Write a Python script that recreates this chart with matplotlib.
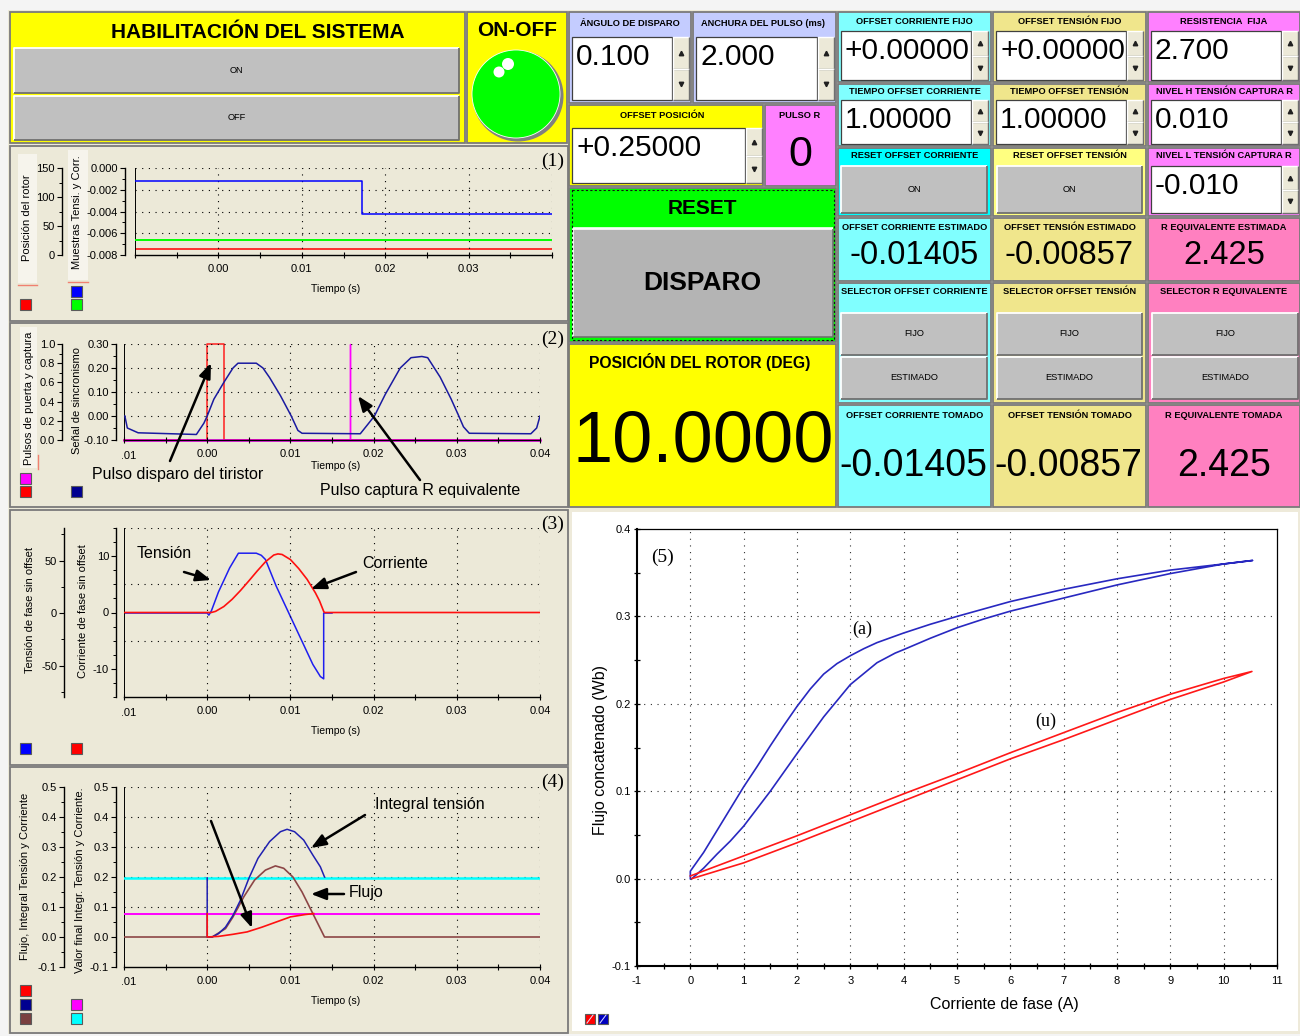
import matplotlib
matplotlib.use("Agg")
import matplotlib.pyplot as plt
from matplotlib.patches import Rectangle, Circle
from matplotlib.transforms import Bbox
from matplotlib.ticker import FixedLocator, FixedFormatter, MultipleLocator

plt.rcParams['font.family'] = ['Liberation Sans', 'DejaVu Sans']
SERIF = ['Liberation Serif', 'DejaVu Serif']

# ---------------- front panel values ----------------
angulo_disparo = 0.100
anchura_pulso_ms = 2.000
offset_posicion = 0.25
pulso_r = 0
offset_corriente_fijo = 0.0
offset_tension_fijo = 0.0
resistencia_fija = 2.700
tiempo_offset_corriente = 1.0
tiempo_offset_tension = 1.0
nivel_h_captura = 0.010
nivel_l_captura = -0.010
offset_corriente_estimado = -0.01405
offset_tension_estimado = -0.00857
r_equivalente_estimada = 2.425
offset_corriente_tomado = -0.01405
offset_tension_tomado = -0.00857
r_equivalente_tomada = 2.425
posicion_rotor = 10.0

# ---------------- graph (1): samples and rotor position ----------------
t_muestras = [-0.01, 0.0172, 0.0172, 0.04]
muestras_azul = [-0.00117, -0.00117, -0.00423, -0.00423]
t_linea = [-0.01, 0.04]
muestras_verde = [-0.00662, -0.00662]
rotor = [posicion_rotor, posicion_rotor]

# ---------------- graph (2): sync signal and pulses ----------------
t_sinc = [-0.0099, -0.0096, -0.0083, -0.0013, -0.0004, 0.0, 0.0008, 0.002, 0.0031, 0.0037,
          0.0059, 0.0067, 0.0075, 0.0088, 0.0101, 0.0109, 0.0114, 0.0184, 0.0193, 0.0201,
          0.0214, 0.0232, 0.0245, 0.0258, 0.0265, 0.028, 0.0293, 0.0302, 0.0308, 0.0315,
          0.0389, 0.0396, 0.04]
v_sinc = [0.0, -0.05, -0.07, -0.077, -0.03, 0.0, 0.07, 0.14, 0.2, 0.22,
          0.22, 0.2, 0.16, 0.085, 0.0, -0.06, -0.072, -0.074, -0.035, 0.0,
          0.09, 0.2, 0.243, 0.248, 0.243, 0.162, 0.072, 0.003, -0.045, -0.072,
          -0.074, -0.05, 0.0]
t_disparo = [-0.01, 0.0, 0.0, 0.002, 0.002, 0.04]
p_disparo = [0, 0, 1, 1, 0, 0]
t_captura = [-0.01, 0.0172, 0.0172, 0.0172, 0.04]
p_captura = [0, 0, 1, 0, 0]

# ---------------- graph (3): phase voltage and current ----------------
t_tension = [-0.01, 0.0, 0.0002, 0.0005, 0.00135, 0.0027, 0.00375, 0.0059, 0.0065, 0.007,
             0.0083, 0.0099, 0.0114, 0.0127, 0.0136, 0.014, 0.014, 0.015]
v_tension = [0, 0, -2, 2, 20, 43, 57, 57, 55, 51,
             25.5, -1.6, -27, -49, -60.5, -62.7, 0, 0]
t_corriente = [-0.01, 0.0005, 0.001, 0.002, 0.003, 0.004, 0.005, 0.006, 0.007, 0.008,
               0.0085, 0.009, 0.010, 0.011, 0.012, 0.013, 0.0135, 0.014, 0.0141, 0.04]
i_corriente = [0, 0, 0.2, 1.06, 2.35, 3.9, 5.6, 7.35, 9.0, 10.2,
               10.4, 10.3, 9.4, 7.8, 5.9, 3.5, 2.06, 0.2, 0, 0]

# ---------------- graph (4): flux, voltage integral and current ----------------
t_integral = [0.0, 0.0, 0.0006, 0.00135, 0.0022, 0.0031, 0.004, 0.005, 0.0061, 0.0075,
              0.0088, 0.0096, 0.0105, 0.0116, 0.0127, 0.0136, 0.0141]
v_integral = [0.197, 0.0, 0.0, 0.011, 0.033, 0.072, 0.123, 0.195, 0.262, 0.318,
              0.351, 0.359, 0.351, 0.323, 0.273, 0.234, 0.2]
t_flujo = [-0.01, 0.0006, 0.0022, 0.0031, 0.0044, 0.0057, 0.007, 0.0082, 0.0092, 0.0103,
           0.0114, 0.0125, 0.0134, 0.0141, 0.04]
v_flujo = [0.0, 0.0, 0.028, 0.067, 0.134, 0.19, 0.223, 0.237, 0.229, 0.2,
           0.15, 0.089, 0.039, 0.0, 0.0]
t_corr4 = [0.0, 0.0, 0.00135, 0.0031, 0.0048, 0.0066, 0.0083, 0.01, 0.0118, 0.0128]
v_corr4 = [0.078, 0.0, 0.002, 0.009, 0.017, 0.033, 0.05, 0.067, 0.075, 0.078]
valor_final_integral = 0.197
valor_final_corriente = 0.078

# ---------------- graph (5): flux linkage vs phase current ----------------
i_alineado = [0.03, 0.25, 0.5, 0.75, 1.0, 1.5, 2.0, 2.5, 3.0, 3.5, 3.84, 4.0, 4.5, 5.0, 5.5, 6.0,
              7.0, 8.0, 9.0, 10.0, 10.54,
              10.0, 9.0, 8.0, 7.0, 6.0, 5.0, 4.5, 4.0, 3.5, 3.25, 3.0, 2.75, 2.5, 2.25, 2.0,
              1.75, 1.5, 1.25, 1.0, 0.75, 0.5, 0.25, 0.0, 0.0]
f_alineado = [0.0, 0.012, 0.028, 0.043, 0.06, 0.1, 0.143, 0.185, 0.222, 0.247, 0.258, 0.262,
              0.275, 0.287, 0.297, 0.306, 0.321, 0.336, 0.349, 0.36, 0.364,
              0.36, 0.353, 0.343, 0.331, 0.317, 0.3, 0.291, 0.281, 0.27, 0.263, 0.255, 0.246,
              0.234, 0.217, 0.197, 0.175, 0.152, 0.128, 0.105, 0.08, 0.055, 0.03, 0.0085, 0.0]
i_no_alineado = [0.03, 1.0, 2.0, 3.0, 4.0, 5.0, 6.0, 7.0, 8.0, 9.0, 10.0, 10.53,
                 10.0, 9.0, 8.0, 7.0, 6.0, 5.0, 4.0, 3.0, 2.0, 1.0, 0.0]
f_no_alineado = [0.0, 0.018, 0.041, 0.065, 0.089, 0.113, 0.137, 0.159, 0.182, 0.205, 0.225, 0.237,
                 0.229, 0.211, 0.19, 0.167, 0.144, 0.12, 0.097, 0.073, 0.049, 0.026, 0.003]

t_ticks = [-0.01, 0.0, 0.01, 0.02, 0.03, 0.04]
t_ticklabels = ['', '0.00', '0.01', '0.02', '0.03', '0.04']

# ---------------- colours ----------------
BEIGE = '#ECE9D8'
YELLOW = '#FFFF00'
LAVENDER = '#C4CCFF'
CYAN_L = '#80FFFF'
CYAN = '#00FFFF'
KHAKI = '#F0E68C'
YELLOW_L = '#FFFF80'
PINK = '#FF80FF'
PINK2 = '#FF80C0'
GREY_BTN = '#C0C0C0'
NAVY = '#1A1AA0'
BROWN = '#8C4646'

W, H = 1300, 1036
fig = plt.figure(figsize=(W / 100, H / 100), dpi=100)
fig.patch.set_facecolor('#F4F4F4')

bg = fig.add_axes([0, 0, 1, 1], zorder=0)
bg.set_xlim(0, W)
bg.set_ylim(H, 0)
bg.axis('off')

fg = fig.add_axes([0, 0, 1, 1], zorder=10)
fg.set_xlim(0, W)
fg.set_ylim(H, 0)
fg.axis('off')
fg.patch.set_alpha(0)


def frac(x0, y0, x1, y1):
    return [x0 / W, 1 - y1 / H, (x1 - x0) / W, (y1 - y0) / H]


def box(x0, y0, x1, y1, fc, ec='none', lw=0.0, z=1, **kw):
    bg.add_patch(Rectangle((x0, y0), x1 - x0, y1 - y0, facecolor=fc, edgecolor=ec,
                           linewidth=lw, zorder=z, **kw))


def panel(x0, y0, x1, y1, fc):
    box(x0, y0, x1, y1, fc, ec='#7A7A7A', lw=1.3)


def bevel(x0, y0, x1, y1, fc, lw=1.0):
    box(x0, y0, x1, y1, fc, z=2)
    bg.plot([x0, x0, x1], [y1, y0, y0], color='white', lw=lw, zorder=3, solid_capstyle='butt')
    bg.plot([x0, x1, x1], [y1, y1, y0], color='#707070', lw=lw, zorder=3, solid_capstyle='butt')


def button(x0, y0, x1, y1, text, size=6.7, fc=GREY_BTN, bold=False):
    bevel(x0, y0, x1, y1, fc, lw=1.3)
    bg.text((x0 + x1) / 2, (y0 + y1) / 2, text, size=size, ha='center', va='center',
            weight='bold' if bold else 'normal', zorder=4)


def title(x, y, s, size=6.7):
    bg.text(x, y, s, size=size, weight='bold', ha='center', va='center', zorder=4)


def numeric(x0, y0, x1, y1, text, size=21.5):
    sw = 16
    box(x0, y0, x1 - sw - 1, y1, 'white', ec='#404040', lw=0.9, z=2)
    mid = (y0 + y1) / 2
    for a, b, mk in [(y0, mid, '^'), (mid, y1, 'v')]:
        bevel(x1 - sw, a, x1, b, BEIGE)
        bg.plot((x1 - sw + x1) / 2, (a + b) / 2, marker=mk, ms=3.2, color='#202020', zorder=4)
    bg.text(x0 + 4, y0 + 20, text, size=size, ha='left', va='center', zorder=4)


def swatch(xc, yc, color, s=11):
    box(xc - s / 2, yc - s / 2, xc + s / 2, yc + s / 2, color, ec='#5A5A5A', lw=0.8, z=3)


def vlabel(x, y, s, size=8):
    bg.text(x, y, s, rotation=90, size=size, ha='center', va='center', zorder=4)


# ---------------- background and panels ----------------
box(8, 10, W, 1034, BEIGE, z=0)

panel(10, 12, 465, 143, YELLOW)
panel(467, 12, 567, 143, YELLOW)
panel(10, 146, 568, 321, BEIGE)
panel(10, 323, 568, 507, BEIGE)
panel(10, 510, 568, 765, BEIGE)
panel(10, 767, 568, 1033, BEIGE)

# system enable block
title(258, 32, 'HABILITACIÓN DEL SISTEMA', size=15)
button(14, 48, 459, 93, 'ON', size=6.7)
button(14, 96, 459, 140, 'OFF', size=6.7)
title(517, 31, 'ON-OFF', size=15)
bg.add_patch(Circle((518, 96), 45.5, facecolor='#808080', edgecolor='none', zorder=2))
bg.add_patch(Circle((516, 94), 44, facecolor='#00FF00', edgecolor='white', lw=0.6, zorder=3))
bg.add_patch(Circle((499, 72), 5.5, facecolor='white', edgecolor='none', zorder=4))
bg.add_patch(Circle((508, 64), 6.0, facecolor='white', edgecolor='none', zorder=4))

# firing controls
panel(569, 12, 691, 103, LAVENDER)
title(630, 23, 'ÁNGULO DE DISPARO')
numeric(572, 37, 689, 100, f'{angulo_disparo:.3f}')
panel(693, 12, 836, 103, LAVENDER)
title(763, 23, 'ANCHURA DEL PULSO (ms)')
numeric(696, 37, 834, 100, f'{anchura_pulso_ms:.3f}')
panel(569, 105, 763, 186, YELLOW)
title(662, 116, 'OFFSET POSICIÓN')
numeric(572, 128, 762, 183, f'{offset_posicion:+.5f}')
panel(765, 105, 836, 186, PINK)
title(800, 116, 'PULSO R')
bg.text(800, 155, f'{pulso_r:d}', size=31, ha='center', va='center', zorder=4)

panel(569, 188, 836, 342, '#00FF00')
bg.add_patch(Rectangle((571.5, 190), 262, 150, facecolor='none', edgecolor='#101010',
                       lw=0.8, ls=(0, (2, 2)), zorder=5))
title(702, 208, 'RESET', size=15)
box(573, 227, 833, 229, '#D0FFD0', z=2)
bevel(573, 229, 833, 337, '#B4B4B4', lw=1.2)
bg.text(702, 283, 'DISPARO', size=19, weight='bold', ha='center', va='center', zorder=4)

panel(569, 344, 836, 507, YELLOW)
title(700, 362, 'POSICIÓN DEL ROTOR (DEG)', size=11.3)
bg.text(703, 443, f'{posicion_rotor:.4f}', size=52, ha='center', va='center', zorder=4)

# offset / resistance columns
cols = [(838, 991), (993, 1146), (1148, 1300)]
rows = [(12, 82), (84, 146), (148, 216), (218, 281), (283, 403), (405, 507)]
col_colors = [[CYAN_L, CYAN_L, CYAN, CYAN_L, CYAN_L, CYAN_L],
              [KHAKI, KHAKI, YELLOW_L, KHAKI, KHAKI, KHAKI],
              [PINK, PINK, PINK, PINK2, PINK2, PINK2]]
for (cx0, cx1), cc in zip(cols, col_colors):
    for (ry0, ry1), c in zip(rows, cc):
        panel(cx0, ry0, cx1, ry1, c)

titles = [['OFFSET CORRIENTE FIJO', 'TIEMPO OFFSET CORRIENTE', 'RESET OFFSET CORRIENTE',
           'OFFSET CORRIENTE ESTIMADO', 'SELECTOR OFFSET CORRIENTE', 'OFFSET CORRIENTE TOMADO'],
          ['OFFSET TENSIÓN FIJO', 'TIEMPO OFFSET TENSIÓN', 'RESET OFFSET TENSIÓN',
           'OFFSET TENSIÓN ESTIMADO', 'SELECTOR OFFSET TENSIÓN', 'OFFSET TENSIÓN TOMADO'],
          ['RESISTENCIA  FIJA', 'NIVEL H TENSIÓN CAPTURA R', 'NIVEL L TENSIÓN CAPTURA R',
           'R EQUIVALENTE ESTIMADA', 'SELECTOR R EQUIVALENTE', 'R EQUIVALENTE TOMADA']]
title_y = [21, 92, 156, 228, 292, 416]
for (cx0, cx1), tl in zip(cols, titles):
    for ty, s in zip(title_y, tl):
        title((cx0 + cx1) / 2, ty, s)

numeric(841, 31, 988, 80, f'{offset_corriente_fijo:+.5f}')
numeric(996, 31, 1143, 80, f'{offset_tension_fijo:+.5f}')
numeric(1151, 31, 1298, 80, f'{resistencia_fija:.3f}')
numeric(841, 100, 988, 144, f'{tiempo_offset_corriente:.5f}')
numeric(996, 100, 1143, 144, f'{tiempo_offset_tension:.5f}')
numeric(1151, 100, 1298, 144, f'{nivel_h_captura:.3f}')
button(841, 166, 987, 213, 'ON')
button(997, 166, 1142, 213, 'ON')
numeric(1151, 166, 1298, 213, f'{nivel_l_captura:.3f}')

bg.text(914, 256, f'{offset_corriente_estimado:.5f}', size=23.5, ha='center', va='center', zorder=4)
bg.text(1069, 256, f'{offset_tension_estimado:.5f}', size=23.5, ha='center', va='center', zorder=4)
bg.text(1224, 256, f'{r_equivalente_estimada:.3f}', size=23.5, ha='center', va='center', zorder=4)

for bx0, bx1 in [(841, 987), (997, 1142), (1152, 1298)]:
    button(bx0, 313, bx1, 355, 'FIJO')
    button(bx0, 357, bx1, 399, 'ESTIMADO')

bg.text(913, 466, f'{offset_corriente_tomado:.5f}', size=27, ha='center', va='center', zorder=4)
bg.text(1068, 466, f'{offset_tension_tomado:.5f}', size=27, ha='center', va='center', zorder=4)
bg.text(1224, 466, f'{r_equivalente_tomada:.3f}', size=27, ha='center', va='center', zorder=4)

# graph (5) panel
box(570, 510, W, 1034, '#EEEADA', z=0)
box(572, 512, 1298, 1031, 'white', z=1)


# ---------------- oscilloscope style graphs ----------------
DOT = (0, (1, 5))


def scope(rect, ax_x, lax_x, ylim, yt, ylab, yminor, ylim_l, yt_l, ylab_l, yminor_l,
          xlabels, grid_y, cut_label_y=None):
    x0, y0, x1, y1 = rect
    axl = fig.add_axes(frac(*rect), zorder=2)
    ax = fig.add_axes(frac(*rect), zorder=3)
    for a in (ax, axl):
        a.set_facecolor('none')
        a.set_xlim(-0.01, 0.04)
    ax.set_ylim(*ylim)
    axl.set_ylim(*ylim_l)
    for s in ('top', 'right'):
        ax.spines[s].set_visible(False)
    for s in ('top', 'right', 'bottom'):
        axl.spines[s].set_visible(False)
    ax.spines['left'].set_position(('outward', (x0 - ax_x) * 0.72))
    axl.spines['left'].set_position(('outward', (x0 - lax_x) * 0.72))
    for a in (ax, axl):
        a.spines['left'].set_linewidth(1.0)
    ax.spines['bottom'].set_linewidth(1.0)
    ax.axvline(-0.01, color='black', lw=1.4, zorder=1)
    for t in t_ticks[1:]:
        ax.axvline(t, color='black', lw=0.8, ls=DOT, zorder=1)
    for yy in grid_y:
        ax.axhline(yy, color='black', lw=0.8, ls=DOT, zorder=1)

    ax.xaxis.set_major_locator(FixedLocator(t_ticks))
    ax.xaxis.set_major_formatter(FixedFormatter(xlabels))
    ax.xaxis.set_minor_locator(MultipleLocator(0.005))
    ax.tick_params(axis='x', which='both', direction='inout', length=5, width=0.8,
                   labelsize=8, pad=4)
    ax.yaxis.set_major_locator(FixedLocator(yt))
    ax.yaxis.set_major_formatter(FixedFormatter(ylab))
    ax.yaxis.set_minor_locator(MultipleLocator(yminor))
    ax.tick_params(axis='y', which='major', direction='out', length=3.5, width=0.8,
                   labelsize=8, pad=1.5)
    ax.tick_params(axis='y', which='minor', direction='out', length=2, width=0.7)

    axl.set_xticks([])
    axl.yaxis.set_major_locator(FixedLocator(yt_l))
    axl.yaxis.set_major_formatter(FixedFormatter(ylab_l))
    axl.yaxis.set_minor_locator(MultipleLocator(yminor_l))
    axl.tick_params(axis='y', which='major', direction='out', length=3.5, width=0.8,
                    labelsize=8, pad=1.5)
    axl.tick_params(axis='y', which='minor', direction='out', length=2, width=0.7)

    if cut_label_y is not None:
        # the first time label is partly hidden behind the axis frame
        txt = fg.text(x0, cut_label_y, '-0.01', size=8, ha='center', va='center')
        txt.set_clip_on(True)
        txt.set_clip_box(Bbox.from_extents(x0 - 2.5, 0, x0 + 40, H))
    return ax, axl


# (1)
ax1, ax1l = scope((135, 168, 552, 255), 125, 62,
                  (-0.008, 0.0), [-0.008, -0.006, -0.004, -0.002, 0.0],
                  ['-0.008', '-0.006', '-0.004', '-0.002', '0.000'], 0.001,
                  (0, 150), [0, 50, 100, 150], ['0', '50', '100', '150'], 25,
                  ['', '0.00', '0.01', '0.02', '0.03', ''], [-0.006, -0.004, -0.002, 0.0])
ax1.plot(t_muestras, muestras_azul, color='#0000FF', lw=1.1, zorder=4)
ax1.plot(t_linea, muestras_verde, color='#00FF00', lw=1.4, zorder=4)
ax1l.plot(t_linea, rotor, color='#FF0000', lw=1.1, zorder=4)

# (2)
ax2, ax2l = scope((124, 344, 540, 440), 116, 62,
                  (-0.1, 0.3), [-0.1, 0.0, 0.1, 0.2, 0.3],
                  ['-0.10', '0.00', '0.10', '0.20', '0.30'], 0.05,
                  (0, 1.0), [0, 0.2, 0.4, 0.6, 0.8, 1.0],
                  ['0.0', '0.2', '0.4', '0.6', '0.8', '1.0'], 0.1,
                  t_ticklabels, [0.0, 0.1, 0.2, 0.3], cut_label_y=456)
ax2.plot(t_sinc, v_sinc, color=NAVY, lw=1.1, zorder=4)
ax2l.plot(t_disparo, p_disparo, color='#FF2020', lw=1.1, zorder=4, clip_on=False)
ax2l.plot(t_captura, p_captura, color='#FF00FF', lw=1.0, zorder=5, clip_on=False)
ax2l.plot(t_linea, [0, 0], color='#FF00FF', lw=1.8, zorder=5, clip_on=False)

# (3)
ax3, ax3l = scope((124, 528, 540, 697), 116, 64,
                  (-15, 15), [-10, 0, 10], ['-10', '0', '10'], 2.5,
                  (-80, 81), [-50, 0, 50], ['-50', '0', '50'], 25,
                  t_ticklabels, [-5, 5, 15], cut_label_y=713)
ax3l.plot(t_tension, v_tension, color='#1E1EF0', lw=1.1, zorder=4)
ax3.plot(t_corriente, i_corriente, color='#FF1010', lw=1.2, zorder=4)

# (4)
ax4, ax4l = scope((124, 787, 540, 967), 116, 64,
                  (-0.1, 0.5), [-0.1, 0.0, 0.1, 0.2, 0.3, 0.4, 0.5],
                  ['-0.1', '0.0', '0.1', '0.2', '0.3', '0.4', '0.5'], 0.05,
                  (-0.1, 0.5), [-0.1, 0.0, 0.1, 0.2, 0.3, 0.4, 0.5],
                  ['-0.1', '0.0', '0.1', '0.2', '0.3', '0.4', '0.5'], 0.05,
                  t_ticklabels, [0.1, 0.2, 0.3, 0.4, 0.5], cut_label_y=982)
ax4.axhline(valor_final_integral, color='#00FFFF', lw=1.8, zorder=3)
ax4.axhline(valor_final_corriente, color='#FF00FF', lw=1.4, zorder=3)
ax4.plot(t_flujo, v_flujo, color=BROWN, lw=1.2, zorder=4)
ax4.plot(t_integral, v_integral, color='#2020B0', lw=1.1, zorder=5)
ax4.plot(t_corr4, v_corr4, color='#FF1010', lw=1.2, zorder=6)

# labels around graphs 1-4
for yy in (289, 466, 731, 1001):
    bg.text(336, yy, 'Tiempo (s)', size=7.5, ha='center', va='center', zorder=4)

box(18, 154, 37, 283, '#F6F4EC', z=1)
bg.plot([18, 37], [285, 285], color='#F08070', lw=1.0, zorder=3)
box(68, 150, 88, 280, '#F6F4EC', z=1)
bg.plot([68, 88], [282, 282], color='#F08070', lw=1.0, zorder=3)
vlabel(27, 218, 'Posición del rotor')
vlabel(77, 212, 'Muestras Tensi. y Corr.')
box(20, 327, 37, 468, '#F6F4EC', z=1)
bg.plot([37.5, 37.5], [455, 469], color='#F08070', lw=1.0, zorder=3)
vlabel(29, 398, 'Pulsos de puerta y captura')
vlabel(77, 400, 'Señal de sincronismo')
vlabel(30, 610, 'Tensión de fase sin offset')
vlabel(83, 611, 'Corriente de fase sin offset')
vlabel(25, 876, 'Flujo, Integral Tensión y Corriente')
vlabel(80, 880, 'Valor final Integr. Tensión y Corriente.')

swatch(25, 304, '#FF0000')
swatch(76, 291, '#0000FF')
swatch(76, 304, '#00FF00')
swatch(25, 478, '#FF00FF')
swatch(25, 491, '#FF0000')
swatch(76, 491, '#000090')
swatch(25, 748, '#0000FF')
swatch(76, 748, '#FF0000')
swatch(25, 990, '#FF0000')
swatch(25, 1004, '#000090')
swatch(25, 1018, '#7A4040')
swatch(76, 1004, '#FF00FF')
swatch(76, 1018, '#00FFFF')

for x, y, s in [(553, 161, '(1)'), (553, 339, '(2)'), (553, 524, '(3)'), (553, 782, '(4)')]:
    fg.text(x, y, s, size=14, family=SERIF, ha='center', va='center')

# annotations
ARW = dict(arrowstyle='-|>,head_length=0.9,head_width=0.35', color='black', lw=1.8,
           shrinkA=0, shrinkB=0)
notes = [
    ('Pulso disparo del tiristor', 92, 474, (170, 461), (211, 363)),
    ('Pulso captura R equivalente', 320, 490, (420, 480), (358, 396)),
    ('Tensión', 137, 553, (184, 572), (211, 580)),
    ('Corriente', 362, 564, (356, 572), (311, 589)),
    ('Integral tensión', 375, 805, (365, 815), (311, 848)),
    ('Flujo', 349, 893, (344, 894), (311, 894)),
    ('', 0, 0, (211, 821), (252, 928)),
]
for s, tx, ty, tail, head in notes:
    if s:
        fg.text(tx, ty, s, size=11.5, ha='left', va='center')
    fg.annotate('', xy=head, xytext=tail, arrowprops=ARW)

# (5) flux linkage graph
ax5 = fig.add_axes(frac(637, 529, 1277, 966), zorder=3)
ax5.set_facecolor('none')
ax5.set_xlim(-1, 11)
ax5.set_ylim(-0.1, 0.4)
for xg in range(0, 11):
    ax5.axvline(xg, color='#303030', lw=0.8, ls=DOT, zorder=1)
for yg in (0.0, 0.1, 0.2, 0.3):
    ax5.axhline(yg, color='#303030', lw=0.8, ls=DOT, zorder=1)
ax5.spines['left'].set_linewidth(1.5)
ax5.spines['bottom'].set_linewidth(1.5)
ax5.spines['top'].set_linewidth(0.9)
ax5.spines['right'].set_linewidth(0.9)
ax5.set_xticks(list(range(-1, 12)))
ax5.set_xticklabels([str(v) for v in range(-1, 12)])
ax5.xaxis.set_minor_locator(MultipleLocator(0.5))
ax5.set_yticks([-0.1, 0.0, 0.1, 0.2, 0.3, 0.4])
ax5.set_yticklabels(['-0.1', '0.0', '0.1', '0.2', '0.3', '0.4'])
ax5.yaxis.set_minor_locator(MultipleLocator(0.05))
ax5.tick_params(axis='both', which='both', direction='inout', length=5, width=0.9, labelsize=8)
ax5.tick_params(axis='x', which='major', pad=5)
ax5.tick_params(axis='y', which='major', pad=2)
ax5.plot(i_alineado, f_alineado, color='#2828C0', lw=1.2, zorder=4)
ax5.plot(i_no_alineado, f_no_alineado, color='#FF1818', lw=1.2, zorder=4)

bg.text(600, 750, 'Flujo concatenado (Wb)', rotation=90, size=11.5, ha='center', va='center', zorder=4)
bg.text(1004, 1005, 'Corriente de fase (A)', size=11.5, ha='center', va='center', zorder=4)
fg.text(663, 557, '(5)', size=14, family=SERIF, ha='center', va='center')
fg.text(862, 629, '(a)', size=13, family=SERIF, ha='center', va='center')
fg.text(1046, 721, '(u)', size=13, family=SERIF, ha='center', va='center')
for xc, c in [(590, '#FF0000'), (603, '#0000C0')]:
    swatch(xc, 1019, c, s=10)
    bg.plot([xc - 3, xc + 3], [1023, 1015], color='#E0E0FF', lw=0.7, zorder=4)

fig.savefig('out.png', dpi=100, facecolor=fig.get_facecolor())
